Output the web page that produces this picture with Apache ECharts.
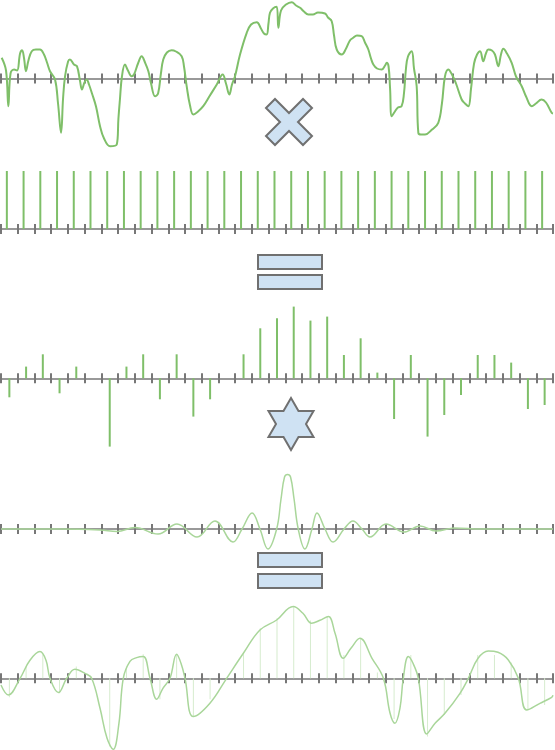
<!DOCTYPE html>
<html>
<head>
<meta charset="utf-8">
<script src="https://cdn.jsdelivr.net/npm/echarts@6/dist/echarts.min.js"></script>
<style>
  html, body { margin: 0; padding: 0; background: #fff; }
  #chart { width: 555px; height: 750px; }
</style>
</head>
<body>
<div id="chart"></div>
<script>
// Time axis is measured in sample periods (0..33).

// Continuous input signal
const signalT = [0.04,0.30,0.44,0.57,0.78,0.96,1.14,1.26,1.38,1.49,1.64,1.84,2.09,2.33,2.57,2.75,2.93,3.23,3.41,3.59,3.71,3.83,4.01,4.12,4.36,4.54,4.72,4.84,4.99,5.12,5.26,5.44,5.68,5.92,6.16,6.52,6.92,7.02,7.11,7.23,7.41,7.59,7.81,7.95,8.19,8.41,8.61,8.81,8.97,9.21,9.39,9.56,9.70,9.92,10.20,10.46,10.80,10.94,11.10,11.30,11.50,11.78,12.09,12.49,12.90,13.25,13.45,13.65,13.81,13.99,14.29,14.69,14.95,15.29,15.54,15.72,15.88,15.99,16.08,16.26,16.48,16.58,16.74,17.04,17.38,17.64,17.88,18.11,18.37,18.65,18.95,19.37,19.55,19.77,19.91,20.07,20.37,20.63,20.86,21.06,21.28,21.56,21.76,21.96,22.12,22.26,22.48,22.76,22.96,23.06,23.17,23.26,23.36,23.55,23.73,23.95,24.09,24.21,24.33,24.55,24.69,24.85,24.95,25.11,25.35,25.77,26.14,26.36,26.54,26.74,26.96,27.20,27.54,27.74,27.94,28.10,28.28,28.46,28.64,28.83,28.99,29.13,29.35,29.53,29.73,29.89,30.03,30.25,30.53,30.79,31.13,31.39,31.73,31.98,32.32,32.58,32.92,33.00];
const signalV = [20.7,8,-27.7,5,9,8,25,28.3,20,7.3,18,27.3,29,29,24,16,7.3,-1,-25,-54.3,-20,2.3,17,19,14,12.3,-2,-11,-4,-1,-6,-15,-28,-47.7,-60,-67.7,-66,-40,-21,2,14,8,2.3,4,15,22.3,16,7.3,-5,-17.7,-15,5,19,26,28.3,27,22.3,12,-7.7,-27,-36,-33,-27.7,-17,-6,4,-5,-16,-6,2.3,24,45.7,54,56.3,50,45,44,55,65.7,70,71.7,50.7,68,74,76.3,73,70.7,67,64,64,66,65,61,57.3,43,29,24,30,38,40.7,43,42.3,36,29,20,14,10,9,13,15.7,12,-10,-37.7,-33,-29,-27.7,-15,10,22,27.3,10,-7.7,-54.3,-56,-56,-51,-44.3,-25,2,9,4,-5,-21,-25,-27.7,-10,15,24,27.3,17.3,25,29,28,24,12.3,24,29.7,25,15.7,2,-7.7,-18,-27.7,-25,-21,-24,-34.3,-35];

// Sampling comb
const combT = [0.35,1.35,2.35,3.35,4.35,5.35,6.35,7.35,8.35,9.35,10.35,11.35,12.35,13.35,14.35,15.35,16.35,17.35,18.35,19.35,20.35,21.35,22.35,23.35,24.35,25.35,26.35,27.35,28.35,29.35,30.35,31.35,32.35];
const combHeight = 58;

// Sampled values
const sampleT = [0.5,1.5,2.5,3.5,4.5,5.5,6.5,7.5,8.5,9.5,10.5,11.5,12.5,13.5,14.5,15.5,16.5,17.5,18.5,19.5,20.5,21.5,22.5,23.5,24.5,25.5,26.5,27.5,28.5,29.5,30.5,31.5,32.5];
const sampleV = [-19,11.7,24,-15,11.7,0,-68.3,11.7,24,-21,24,-38.3,-21,0,24,50,60,71.7,57.7,61.7,23.3,40,5.7,-40.7,23.3,-58.3,-36.7,-16.7,23.3,23.3,15.7,-30.7,-26.7];

// Interpolation kernel
const kernelT = [0,3.53,5.92,6.93,8.01,9.39,10.52,11.72,12.79,13.87,14.41,15.01,15.48,15.96,16.48,16.74,16.95,17.13,17.31,17.52,17.77,18.17,18.59,18.89,19.37,19.85,20.51,21.04,21.58,22.06,23.02,24.09,25.05,26.01,27.14,28.64,33];
const kernelV = [0,0,-1,-2.5,1.5,-5,5,-8,8,-13,0,16,0,-20,0,30,52,54.5,52,30,0,-20,0,16,0,-13,0,8,0,-8,5,-3,3,-2,1,0,0];

// Reconstructed output
const reconT = [0,0.44,1.14,1.73,2.33,2.69,2.93,3.43,3.93,4.42,5.02,5.42,5.92,6.34,6.71,7.05,7.31,7.71,8.11,8.51,8.91,9.31,9.68,10.10,10.50,10.76,11.00,11.50,12.49,13.49,14.49,15.48,16.48,17.47,18.05,18.57,19.07,19.57,19.97,20.46,20.92,21.46,22.18,22.86,23.26,23.55,23.85,24.05,24.35,24.63,24.95,25.45,25.95,26.54,27.44,27.94,28.52,29.13,29.71,30.33,30.93,31.43,32.22,32.92,33];
const reconV = [-6.7,-16.7,0,18,26.7,18,0,-14.3,0,9,5,0,-30,-60,-71,-45,0,17,20.7,21.7,0,-21,-10,0,24,15,0,-38.3,-25,0,25,48.3,58.3,71.7,65,55,58,61.7,45,20,30,40,20,0,-35,-45,-30,0,21.7,15,0,-55.7,-45,-35,-15,0,20,27.3,26,18.3,0,-31.7,-25,-19,-17];

const zip = (a, b) => a.map((v, i) => [v, b[i]]);

const GREEN = '#7fbf69';
const LIGHT = '#a9d69a';
const PALE = '#d6ecce';
const FILL = '#cfe2f3';
const EDGE = '#707070';

// Panel layout: [top, height, yMin, yMax]
const panels = [
  [0, 150, -71.5, 78.5],
  [160, 80, -11, 69],
  [300, 150, -71.7, 78.3],
  [460, 90, -21, 69],
  [600, 150, -71.7, 78.3]
];

// Each panel gets two x axes sitting on y = 0 (ticks down and ticks up),
// each anchored to its own copy of the panel's y axis.
const grids = [], xAxes = [], yAxes = [];
panels.forEach((p, k) => {
  grids.push({ left: 1, right: 2, top: p[0], height: p[1] });
  ['bottom', 'top'].forEach(pos => {
    xAxes.push({
      type: 'value', gridIndex: k, position: pos, min: 0, max: 33, interval: 1,
      axisLine: { show: true, onZero: true, lineStyle: { color: '#999', width: 2 } },
      axisTick: { show: true, length: 5, lineStyle: { color: '#777', width: 2 } },
      axisLabel: { show: false }, splitLine: { show: false }
    });
    yAxes.push({ type: 'value', gridIndex: k, min: p[2], max: p[3], show: false, splitLine: { show: false } });
  });
});

const series = [
  { type: 'line', xAxisIndex: 0, yAxisIndex: 0, data: zip(signalT, signalV), smooth: 0.4,
    showSymbol: false, lineStyle: { color: GREEN, width: 2 }, z: 3 },
  { type: 'bar', xAxisIndex: 2, yAxisIndex: 2, data: combT.map(t => [t, combHeight]),
    barWidth: 2, itemStyle: { color: GREEN }, z: 1 },
  { type: 'bar', xAxisIndex: 4, yAxisIndex: 4, data: zip(sampleT, sampleV),
    barWidth: 2, itemStyle: { color: GREEN }, z: 1 },
  { type: 'line', xAxisIndex: 6, yAxisIndex: 6, data: zip(kernelT, kernelV), smooth: 0.4,
    showSymbol: false, lineStyle: { color: LIGHT, width: 1.5 }, z: 3 },
  { type: 'bar', xAxisIndex: 8, yAxisIndex: 8, data: zip(sampleT, sampleV),
    barWidth: 1, itemStyle: { color: PALE }, z: 1 },
  { type: 'line', xAxisIndex: 8, yAxisIndex: 8, data: zip(reconT, reconV), smooth: 0.4,
    showSymbol: false, lineStyle: { color: LIGHT, width: 1.5 }, z: 3 }
];

// Operator glyphs between the panels
function crossShape(cx, cy, s, d) {
  const p = [[-s,-s+d],[-s+d,-s],[0,-d],[s-d,-s],[s,-s+d],[d,0],[s,s-d],[s-d,s],[0,d],[-s+d,s],[-s,s-d],[-d,0]];
  return p.map(q => [cx + q[0], cy + q[1]]);
}
function starShape(cx, cy, R, r) {
  const pts = [];
  for (let k = 0; k < 12; k++) {
    const a = (-90 + k * 30) * Math.PI / 180;
    const rr = k % 2 === 0 ? R : r;
    pts.push([cx + rr * Math.cos(a), cy + rr * Math.sin(a)]);
  }
  return pts;
}
const glyphStyle = { fill: FILL, stroke: EDGE, lineWidth: 2 };
const graphic = [
  { type: 'polygon', shape: { points: crossShape(289, 122, 23, 9) }, style: glyphStyle, z: 100 },
  { type: 'rect', shape: { x: 258, y: 255, width: 64, height: 14 }, style: glyphStyle, z: 100 },
  { type: 'rect', shape: { x: 258, y: 275, width: 64, height: 14 }, style: glyphStyle, z: 100 },
  { type: 'polygon', shape: { points: starShape(291, 424, 26, 15) }, style: glyphStyle, z: 100 },
  { type: 'rect', shape: { x: 258, y: 553, width: 64, height: 14 }, style: glyphStyle, z: 100 },
  { type: 'rect', shape: { x: 258, y: 574, width: 64, height: 14 }, style: glyphStyle, z: 100 }
];

const chart = echarts.init(document.getElementById('chart'), null, { renderer: 'canvas' });
chart.setOption({
  animation: false,
  backgroundColor: '#fff',
  grid: grids,
  xAxis: xAxes,
  yAxis: yAxes,
  series: series,
  graphic: graphic
});
</script>
</body>
</html>
